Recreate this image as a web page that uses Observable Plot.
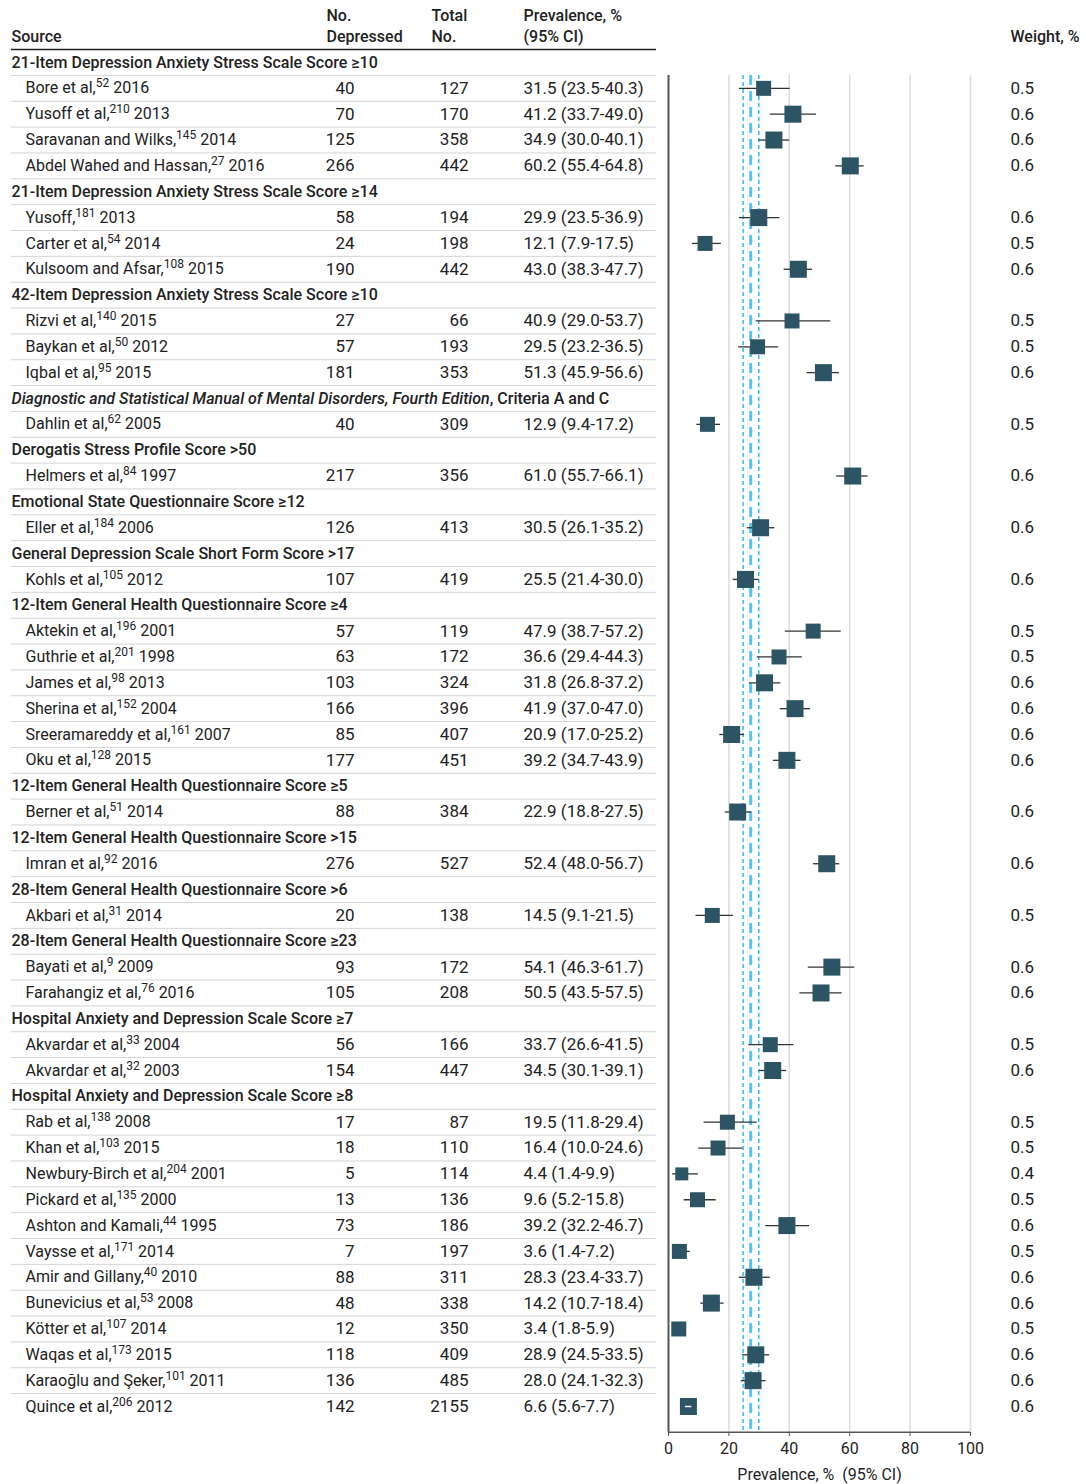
<!DOCTYPE html>
<html>
<head>
<meta charset="utf-8">
<script src="https://cdn.jsdelivr.net/npm/d3@7"></script>
<script src="https://cdn.jsdelivr.net/npm/@observablehq/plot@0.6"></script>
<style>
  html, body { margin: 0; padding: 0; background: #fff; }
  #chart svg { display: block; }
</style>
</head>
<body>
<div id="chart"></div>
<script>
// ---------------- DATA ----------------
const groupNames = [
  "21-Item Depression Anxiety Stress Scale Score ≥10",
  "21-Item Depression Anxiety Stress Scale Score ≥14",
  "42-Item Depression Anxiety Stress Scale Score ≥10",
  "Diagnostic and Statistical Manual of Mental Disorders, Fourth Edition, Criteria A and C",
  "Derogatis Stress Profile Score >50",
  "Emotional State Questionnaire Score ≥12",
  "General Depression Scale Short Form Score >17",
  "12-Item General Health Questionnaire Score ≥4",
  "12-Item General Health Questionnaire Score ≥5",
  "12-Item General Health Questionnaire Score >15",
  "28-Item General Health Questionnaire Score >6",
  "28-Item General Health Questionnaire Score ≥23",
  "Hospital Anxiety and Depression Scale Score ≥7",
  "Hospital Anxiety and Depression Scale Score ≥8"
];
const studyGroup = [0,0,0,0, 1,1,1, 2,2,2, 3, 4, 5, 6, 7,7,7,7,7,7, 8, 9, 10, 11,11, 12,12,
  13,13,13,13,13,13,13,13,13,13,13,13];
const studyNames = ["Bore et al","Yusoff et al","Saravanan and Wilks","Abdel Wahed and Hassan",
  "Yusoff","Carter et al","Kulsoom and Afsar",
  "Rizvi et al","Baykan et al","Iqbal et al",
  "Dahlin et al","Helmers et al","Eller et al","Kohls et al",
  "Aktekin et al","Guthrie et al","James et al","Sherina et al","Sreeramareddy et al","Oku et al",
  "Berner et al","Imran et al","Akbari et al","Bayati et al","Farahangiz et al",
  "Akvardar et al","Akvardar et al",
  "Rab et al","Khan et al","Newbury-Birch et al","Pickard et al","Ashton and Kamali","Vaysse et al",
  "Amir and Gillany","Bunevicius et al","Kötter et al","Waqas et al","Karaoğlu and Şeker","Quince et al"];
const studyRefs = [52,210,145,27, 181,54,108, 140,50,95, 62,84,184,105, 196,201,98,152,161,128,
  51,92,31,9,76, 33,32, 138,103,204,135,44,171,40,53,107,173,101,206];
const studyYears = [2016,2013,2014,2016, 2013,2014,2015, 2015,2012,2015, 2005,1997,2006,2012,
  2001,1998,2013,2004,2007,2015, 2014,2016,2014,2009,2016, 2004,2003,
  2008,2015,2001,2000,1995,2014,2010,2008,2014,2015,2011,2012];
const nDepressed = [40,70,125,266, 58,24,190, 27,57,181, 40,217,126,107, 57,63,103,166,85,177,
  88,276,20,93,105, 56,154, 17,18,5,13,73,7,88,48,12,118,136,142];
const totalN = [127,170,358,442, 194,198,442, 66,193,353, 309,356,413,419, 119,172,324,396,407,451,
  384,527,138,172,208, 166,447, 87,110,114,136,186,197,311,338,350,409,485,2155];
const prevalence = [31.5,41.2,34.9,60.2, 29.9,12.1,43.0, 40.9,29.5,51.3, 12.9,61.0,30.5,25.5,
  47.9,36.6,31.8,41.9,20.9,39.2, 22.9,52.4,14.5,54.1,50.5, 33.7,34.5,
  19.5,16.4,4.4,9.6,39.2,3.6,28.3,14.2,3.4,28.9,28.0,6.6];
const ciLow = [23.5,33.7,30.0,55.4, 23.5,7.9,38.3, 29.0,23.2,45.9, 9.4,55.7,26.1,21.4,
  38.7,29.4,26.8,37.0,17.0,34.7, 18.8,48.0,9.1,46.3,43.5, 26.6,30.1,
  11.8,10.0,1.4,5.2,32.2,1.4,23.4,10.7,1.8,24.5,24.1,5.6];
const ciHigh = [40.3,49.0,40.1,64.8, 36.9,17.5,47.7, 53.7,36.5,56.6, 17.2,66.1,35.2,30.0,
  57.2,44.3,37.2,47.0,25.2,43.9, 27.5,56.7,21.5,61.7,57.5, 41.5,39.1,
  29.4,24.6,9.9,15.8,46.7,7.2,33.7,18.4,5.9,33.5,32.3,7.7];
const weights = [0.5,0.6,0.6,0.6, 0.6,0.5,0.6, 0.5,0.5,0.6, 0.5,0.6,0.6,0.6,
  0.5,0.5,0.6,0.6,0.6,0.6, 0.6,0.6,0.5,0.6,0.6, 0.5,0.6,
  0.5,0.5,0.4,0.5,0.6,0.5,0.6,0.6,0.5,0.6,0.6,0.6];
const pooledEstimate = [27.2];
const pooledCI = [24.7, 29.9];
const xTicks = [0, 20, 40, 60, 80, 100];

// ---------------- ROWS ----------------
const groupRows = [];
const studyRows = [];
let row = 0;
groupNames.forEach((g, gi) => {
  groupRows.push({row: row++, label: g});
  studyNames.forEach((n, i) => {
    if (studyGroup[i] !== gi) return;
    studyRows.push({
      row: row++, name: n, ref: studyRefs[i], year: studyYears[i],
      dep: nDepressed[i], total: totalN[i], p: prevalence[i], lo: ciLow[i], hi: ciHigh[i],
      w: weights[i], side: 20 * weights[i] + 5,
      ci: `${prevalence[i].toFixed(1)} (${ciLow[i].toFixed(1)}-${ciHigh[i].toFixed(1)})`
    });
  });
});
const nRows = row;

const xDomain = [0, 100];
const xRange = [668, 970];
const pxPerUnit = (xRange[1] - xRange[0]) / (xDomain[1] - xDomain[0]);
const inside = studyRows.filter(d => (d.hi - d.p) * pxPerUnit < d.side / 2 && (d.p - d.lo) * pxPerUnit < d.side / 2);

const FONT = "Roboto, 'Open Sans', sans-serif";
const T = {fontSize: 16, fill: "#222", lineAnchor: "middle"};
const N = {fontSize: 17, fill: "#222", lineAnchor: "middle"};
const H = {fontSize: 16, fill: "#222", lineAnchor: "middle", fontWeight: 500};

const boundaries = d3.range(0.5, nRows - 1, 1);

const svg = Plot.plot({
  width: 1086,
  height: 1484,
  marginLeft: 11,
  marginRight: 430,
  marginTop: 0,
  marginBottom: 52,
  style: {fontFamily: FONT, background: "#fff", color: "#222"},
  x: {domain: xDomain, range: xRange},
  y: {domain: [0, nRows - 1], range: [62, 1406], axis: null},
  r: {type: "identity"},
  marks: [
    // table separators
    Plot.ruleY(boundaries, {stroke: "#d4d4d4", strokeWidth: 1}),
    Plot.ruleY([-0.5], {stroke: "#222", strokeWidth: 1.5}),
    // grid
    Plot.ruleX(xTicks.filter(d => d > 0), {y1: 0.5, y2: nRows, stroke: "#dcdcdc", strokeWidth: 1.5}),
    // pooled
    Plot.ruleX(pooledCI, {y1: 0.5, y2: nRows, stroke: "#1db6f2", strokeWidth: 1.4, strokeDasharray: "4,3"}),
    Plot.ruleX(pooledEstimate, {y1: 0.5, y2: nRows, stroke: "#55c6f0", strokeWidth: 3, strokeDasharray: "10,6"}),
    // axes lines
    Plot.ruleX([xDomain[0]], {y1: 0.5, y2: nRows, stroke: "#555", strokeWidth: 2}),
    Plot.ruleY([nRows], {x1: xDomain[0], x2: xDomain[1], stroke: "#555", strokeWidth: 1.5}),
    // CIs and squares
    Plot.ruleY(studyRows, {y: "row", x1: "lo", x2: "hi", stroke: "#333", strokeWidth: 1.3}),
    Plot.dot(studyRows, {x: "p", y: "row", r: d => d.side / Math.sqrt(Math.PI), symbol: "square", fill: "#2d5464", stroke: null}),
    Plot.ruleY(inside, {y: "row", x1: "lo", x2: "hi", stroke: "#fff", strokeWidth: 1.5}),
    // header
    Plot.text(["Source"], {...H, y: -1, frameAnchor: "left", textAnchor: "start"}),
    Plot.text(["Depressed"], {...H, y: -1, frameAnchor: "right", textAnchor: "start", dx: -330}),
    Plot.text(["No."], {...H, y: -1, frameAnchor: "right", textAnchor: "start", dx: -330, dy: -21}),
    Plot.text(["No."], {...H, y: -1, frameAnchor: "right", textAnchor: "start", dx: -225}),
    Plot.text(["Total"], {...H, y: -1, frameAnchor: "right", textAnchor: "start", dx: -225, dy: -21}),
    Plot.text(["(95% CI)"], {...H, y: -1, frameAnchor: "right", textAnchor: "start", dx: -133}),
    Plot.text(["Prevalence, %"], {...H, y: -1, frameAnchor: "right", textAnchor: "start", dx: -133, dy: -21}),
    Plot.text(["Weight, %"], {...H, y: -1, frameAnchor: "right", textAnchor: "start", dx: 354}),
    // group headers
    Plot.text(groupRows, {...H, y: "row", text: "label", frameAnchor: "left", textAnchor: "start", ariaDescription: "group-label"}),
    // study columns
    Plot.text(studyRows, {...T, y: "row", text: "name", frameAnchor: "left", textAnchor: "start", dx: 14, ariaDescription: "study-name"}),
    Plot.text(studyRows, {...N, y: "row", text: d => String(d.dep), frameAnchor: "right", textAnchor: "end", dx: -302}),
    Plot.text(studyRows, {...N, y: "row", text: d => String(d.total), frameAnchor: "right", textAnchor: "end", dx: -188}),
    Plot.text(studyRows, {...N, y: "row", text: "ci", frameAnchor: "right", textAnchor: "start", dx: -133}),
    Plot.text(studyRows, {...N, y: "row", text: d => d.w.toFixed(1), frameAnchor: "right", textAnchor: "start", dx: 354}),
    // x axis
    Plot.axisX({ticks: xTicks, tickSize: 4, tickPadding: 6, fontSize: 16, label: null, stroke: "#555", color: "#222"}),
    Plot.text(["Prevalence, %  (95% CI)"], {...T, x: d3.mean(xDomain), frameAnchor: "bottom", dy: 42})
  ]
});

// superscript reference numbers
svg.querySelectorAll('g[aria-description="study-name"] text').forEach((t, i) => {
  const d = studyRows[i];
  if (!d) return;
  const ns = "http://www.w3.org/2000/svg";
  t.textContent = d.name + ",";
  const sup = document.createElementNS(ns, "tspan");
  sup.setAttribute("font-size", "12");
  sup.setAttribute("dy", "-6");
  sup.textContent = String(d.ref);
  const yr = document.createElementNS(ns, "tspan");
  yr.setAttribute("dy", "6");
  yr.textContent = "\u00a0" + d.year;
  t.appendChild(sup);
  t.appendChild(yr);
});
// italic title part
svg.querySelectorAll('g[aria-description="group-label"] text').forEach(t => {
  const s = t.textContent;
  const key = "Fourth Edition";
  const k = s.indexOf(key);
  if (k < 0) return;
  const ns = "http://www.w3.org/2000/svg";
  t.textContent = "";
  const it = document.createElementNS(ns, "tspan");
  it.setAttribute("font-style", "italic");
  it.textContent = s.slice(0, k + key.length);
  const rest = document.createElementNS(ns, "tspan");
  rest.textContent = s.slice(k + key.length);
  t.appendChild(it);
  t.appendChild(rest);
});
svg.querySelectorAll("text").forEach(t => { t.style.whiteSpace = "pre"; });

document.getElementById("chart").appendChild(svg);
</script>
</body>
</html>
